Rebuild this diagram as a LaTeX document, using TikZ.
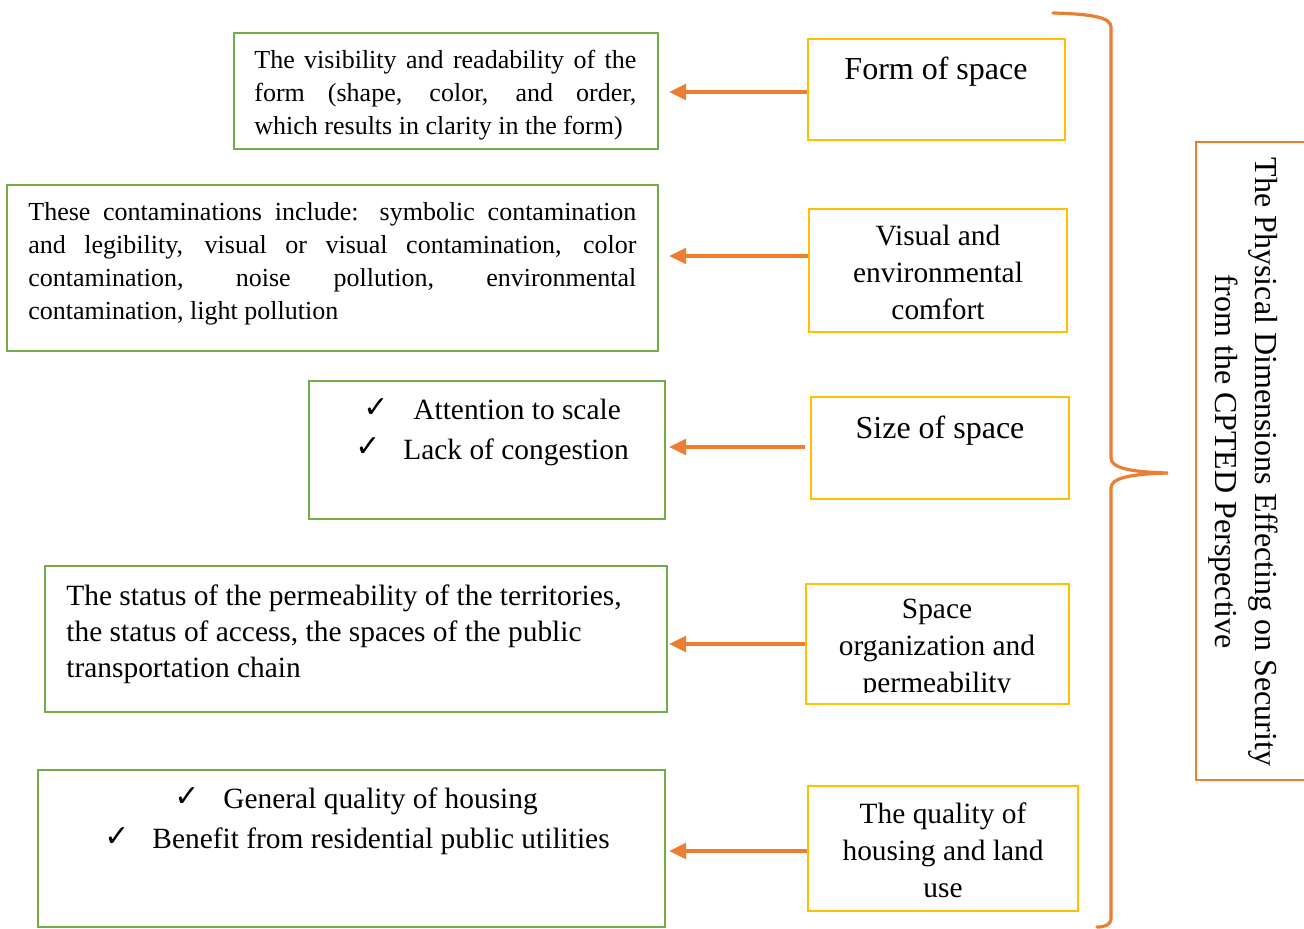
\documentclass[tikz,border=0pt]{standalone}
\usepackage{fontspec}
\setmainfont{Liberation Serif}
\newfontfamily\symfont{DejaVu Sans}
\usetikzlibrary{arrows.meta,calc}
\definecolor{gr}{HTML}{70AD47}
\definecolor{yl}{HTML}{FFC000}
\definecolor{og}{HTML}{ED7D31}
\begin{document}
\begin{tikzpicture}[x=0.5pt,y=-0.5pt,
  gbox/.style={draw=gr,line width=1.2pt,inner sep=0pt},
  ybox/.style={draw=yl,line width=1.2pt,inner sep=0pt},
  obox/.style={draw=og,line width=1.1pt,inner sep=0pt},
  arr/.style={draw=og,line width=1.6pt,-{Triangle[length=8.5pt,width=8pt]}},
  brace/.style={draw=og,line width=1.6pt,line cap=round},
  small/.style={inner sep=0pt,font=\fontsize{13pt}{16.5pt}\selectfont},
  mid/.style={inner sep=0pt,font=\fontsize{14.7pt}{18pt}\selectfont},
  midy/.style={inner sep=0pt,font=\fontsize{14.7pt}{18.5pt}\selectfont},
  big/.style={inner sep=0pt,font=\fontsize{16pt}{18.5pt}\selectfont},
  chk/.style={inner sep=0pt,font=\fontsize{15pt}{16pt}\symfont\bfseries}]
\useasboundingbox (0,0) rectangle (1304,929);
% green boxes
\node[gbox,minimum width=212pt,minimum height=58pt] (g1) at (446,91) {};
\node[gbox,minimum width=325.5pt,minimum height=83pt] (g2) at (332.5,268) {};
\node[gbox,minimum width=178pt,minimum height=69pt] (g3) at (487,450) {};
\node[gbox,minimum width=311pt,minimum height=73pt] (g4) at (356,639) {};
\node[gbox,minimum width=313.5pt,minimum height=78.5pt] (g5) at (351.5,848.5) {};
% yellow boxes
\node[ybox,minimum width=128.5pt,minimum height=50.5pt] (y1) at (936.5,89.5) {};
\node[ybox,minimum width=129pt,minimum height=61.5pt] (y2) at (938,270.5) {};
\node[ybox,minimum width=129pt,minimum height=51pt] (y3) at (940,448) {};
\node[ybox,minimum width=131.5pt,minimum height=60pt] (y4) at (937.5,644) {};
\node[ybox,minimum width=135pt,minimum height=62.5pt] (y5) at (943,848.5) {};
% orange box
\node[obox,minimum width=60pt,minimum height=319pt] (ob) at (1256,461) {};
% green texts
\node[small,anchor=base west,text width=191pt,align=justify] (t1) at (254,69)
  {The visibility and readability of the\linebreak form (shape, color, and order,\linebreak which results in clarity in the form)};
\node[small,anchor=base west,text width=304pt,align=justify] (t2) at (28,221)
  {These contaminations include: symbolic contamination\linebreak and legibility, visual or visual contamination, color\linebreak contamination, noise pollution, environmental\linebreak contamination, light pollution};
\node[chk,anchor=base] (c31) at (376,418) {✓};
\node[mid,anchor=base west] (t31) at (413,420) {Attention to scale};
\node[chk,anchor=base] (c32) at (368,457) {✓};
\node[mid,anchor=base west] (t32) at (403,460) {Lack of congestion};
\node[mid,anchor=base west,align=left] (t4) at (66,677)
  {The status of the permeability of the territories,\\the status of access, the spaces of the public\\transportation chain};
\node[chk,anchor=base] (c51) at (187,806) {✓};
\node[mid,anchor=base west] (t51) at (223,808) {General quality of housing};
\node[chk,anchor=base] (c52) at (117,846) {✓};
\node[mid,anchor=base west] (t52) at (152,848) {Benefit from residential public utilities};
% yellow texts
\node[big,anchor=base] (u1) at (936,80) {Form of space};
\node[midy,anchor=base,align=center] (u2) at (938,320) {Visual and\\environmental\\comfort};
\node[big,anchor=base] (u3) at (940,439) {Size of space};
\begin{scope}
\clip (800,580) rectangle (1075,692);
\node[midy,anchor=base,align=center] (u4) at (937,692) {Space\\organization and\\permeability};
\end{scope}
\node[midy,anchor=base,align=center] (u5) at (943,897) {The quality of\\housing and land\\use};
% rotated title
\node[inner sep=0pt,font=\fontsize{16pt}{20pt}\selectfont,rotate=-90,anchor=base,align=center] (tt) at (1215,462)
  {The Physical Dimensions Effecting on Security\\from the CPTED Perspective};
% brace
\draw[brace] (1053,13) .. controls (1090,14) and (1111,17) .. (1111,27) -- (1111,458)
  .. controls (1111,468) and (1130,472) .. (1168,473)
  .. controls (1130,474) and (1111,478) .. (1111,488) -- (1111,918)
  .. controls (1111,925) and (1105,927) .. (1097,927);
% arrows
\draw[arr] ($(y1.west)+(0,2.5)$) -- ($(g1.east)+(10,1)$);
\draw[arr] ($(y2.west)+(0,-14.5)$) -- ($(g2.east)+(10,-12)$);
\draw[arr] ($(y3.west)+(-5,-1)$) -- ($(g3.east)+(3,-3)$);
\draw[arr] (y4.west) -- ($(g4.east)+(1,5)$);
\draw[arr] ($(y5.west)+(0,2.5)$) -- ($(g5.east)+(3,2.5)$);
\end{tikzpicture}
\end{document}
